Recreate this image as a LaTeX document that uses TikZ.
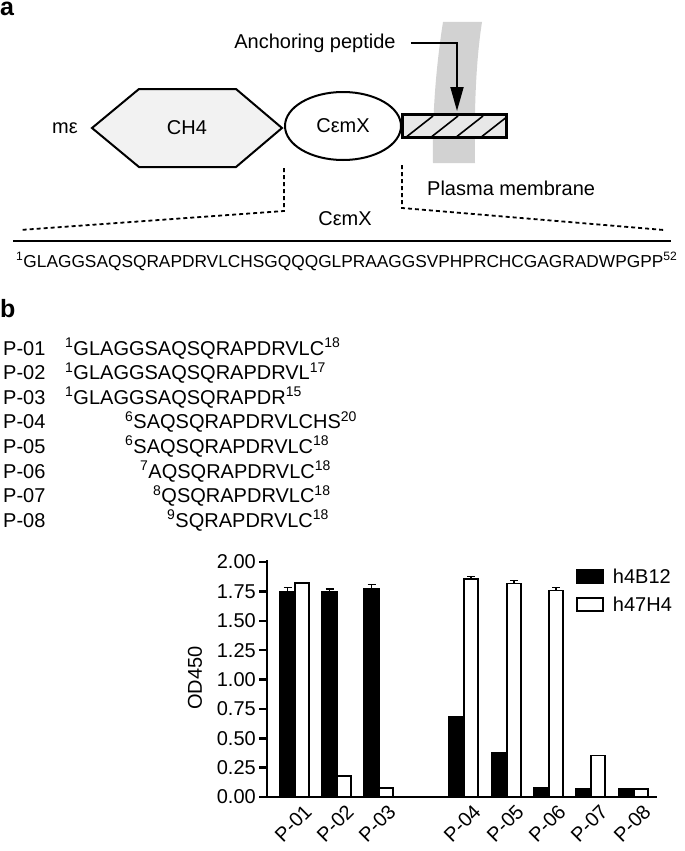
\documentclass[tikz,border=0pt]{standalone}
\usepackage{fontspec}
\setmainfont{Liberation Sans}
\usetikzlibrary{shapes.geometric, arrows.meta, positioning}

\begin{document}
\begin{tikzpicture}
  [
    x=1pt, y=-1pt,
    Label/.style={font=\fontsize{20}{24}\selectfont, inner sep=0pt},
    Panel/.style={font=\fontsize{25}{30}\selectfont\bfseries, inner sep=0pt, anchor=base west},
    Seq/.style={font=\fontsize{20}{24}\selectfont, inner sep=0pt, anchor=base west},
    Domain/.style={draw=black, line width=2pt},
    Link/.style={draw, line width=1.8pt, dash pattern=on 4pt off 3pt},
    Bar/.style={draw=black, line width=1.5pt},
    Tick/.style={font=\fontsize{20}{24}\selectfont, inner sep=0pt}
  ]
  \useasboundingbox (0,0) rectangle (685,851);

  % Panel a
  \node[Panel] (pa) at (0,16) {a};

  % membrane
  \fill[gray!35] (443,22) .. controls (437,60) and (432,110) .. (433,163)
    -- (475,163) .. controls (474,110) and (476,60) .. (482,22) -- cycle;

  % Nodes
  \draw[Domain, fill=gray!10] (92,128) -- (139,89) -- (236,89) -- (282,128)
    -- (236,167) -- (139,167) -- cycle;
  \node[Label] (ch4) at (187,128) {CH4};
  \node[Label] (me) at (65,128) {mε};

  \node[Domain, ellipse, fill=white, minimum width=116pt, minimum height=68pt,
    font=\fontsize{20}{24}\selectfont] (cemx) at (343,126) {CεmX};

  \node[Domain, fill=gray!18, minimum width=103pt, minimum height=22pt,
    inner sep=0pt, anchor=west] (tm) at (cemx.east) {};
  \begin{scope}
    \clip (tm.south west) rectangle (tm.north east);
    \foreach \h in {3,28,53,78}
      \draw[line width=1.6pt] ([xshift=\h pt]tm.south west) -- ++(28,-22);
  \end{scope}
  \draw[Domain] (tm.south west) rectangle (tm.north east);

  \node[Label] (anch) at (315,43) {Anchoring peptide};
  \coordinate (tip) at (457,111);
  \node[Label, anchor=west] (pm) at (427,188) {Plasma membrane};
  \node[Label] (cemxlab) at (345,219) {CεmX};

  \coordinate (dl) at (284,168);
  \coordinate (dr) at (402,165);
  \coordinate (sl) at (20,230);
  \coordinate (sr) at (664,230);

  % Lines
  \path [draw, line width=1.8pt, -{Triangle[length=24pt, width=13pt]}]
    ([xshift=15pt]anch.east) -| (tip);
  \path [Link] (dl) -- ++(0,43) -- (sl);
  \path [Link] (dr) -- ++(0,43) -- (sr);
  \draw[line width=2.5pt] (13,241) -- (671,241);

  \node[Seq, font=\fontsize{17.3}{20}\selectfont] (seq) at (16,267)
    {\textsuperscript{1}GLAGGSAQSQRAPDRVLCHSGQQQGLPRAAGGSVPHPRCHCGAGRADWPGPP\textsuperscript{52}};

  % Panel b
  \node[Panel] (pb) at (0,317) {b};
  \foreach \i/\x/\n/\s/\e in {1/65/1/GLAGGSAQSQRAPDRVLC/18, 2/65/1/GLAGGSAQSQRAPDRVL/17,
      3/65/1/GLAGGSAQSQRAPDR/15, 4/125/6/SAQSQRAPDRVLCHS/20, 5/125/6/SAQSQRAPDRVLC/18,
      6/140/7/AQSQRAPDRVLC/18, 7/153/8/QSQRAPDRVLC/18, 8/167/9/SQRAPDRVLC/18}
  {
    \node[Seq] (p\i) at (3,{355+24.6*(\i-1)}) {P-0\i};
    \node[Seq] (s\i) at (\x,{355+24.6*(\i-1)}) {\textsuperscript{\n}\s\textsuperscript{\e}};
  }

  % Chart
  \draw[line width=2.5pt] (267,560) -- (267,797) -- (657,797);
  \foreach \k/\v in {0/0.00, 1/0.25, 2/0.50, 3/0.75, 4/1.00, 5/1.25, 6/1.50, 7/1.75, 8/2.00}
  {
    \draw[line width=2.5pt] (259,{797-29.375*\k}) -- (267,{797-29.375*\k});
    \node[Tick, anchor=east] (t\k) at (256,{797-29.375*\k}) {\v};
  }
  \node[Label, rotate=90] (ylab) at (195,678) {OD450};

  \foreach \c/\b/\w/\n in {295/1.75/1.82/1, 337/1.75/0.18/2, 379/1.77/0.075/3,
      464/0.68/1.855/4, 507/0.375/1.815/5, 549/0.08/1.757/6, 591/0.07/0.353/7,
      634/0.068/0.068/8}
  {
    \draw[Bar, fill=black] (\c-15,797) rectangle (\c,{797-117.5*\b});
    \draw[Bar, fill=white] (\c,797) rectangle (\c+14,{797-117.5*\w});
    \node[Tick, rotate=45, anchor=north east] (x\n) at (\c+8,803) {P-0\n};
  }
  \foreach \x/\t/\e in {287.5/1.75/1.78, 329.5/1.75/1.77, 371.5/1.77/1.81,
      471/1.855/1.88, 514/1.815/1.84, 556/1.757/1.78}
    \draw[line width=1.2pt] (\x,{797-117.5*\t}) -- (\x,{797-117.5*\e})
      ++(-4,0) -- ++(8,0);

  % Legend
  \node[Bar, fill=black, minimum width=26pt, minimum height=13pt, inner sep=0pt]
    (kb) at (590,576.5) {};
  \node[Tick, right=9pt of kb] (kbl) {h4B12};
  \node[Bar, fill=white, minimum width=26pt, minimum height=13pt, inner sep=0pt]
    (kw) at (590,604.5) {};
  \node[Tick, right=9pt of kw] (kwl) {h47H4};
\end{tikzpicture}
\end{document}
